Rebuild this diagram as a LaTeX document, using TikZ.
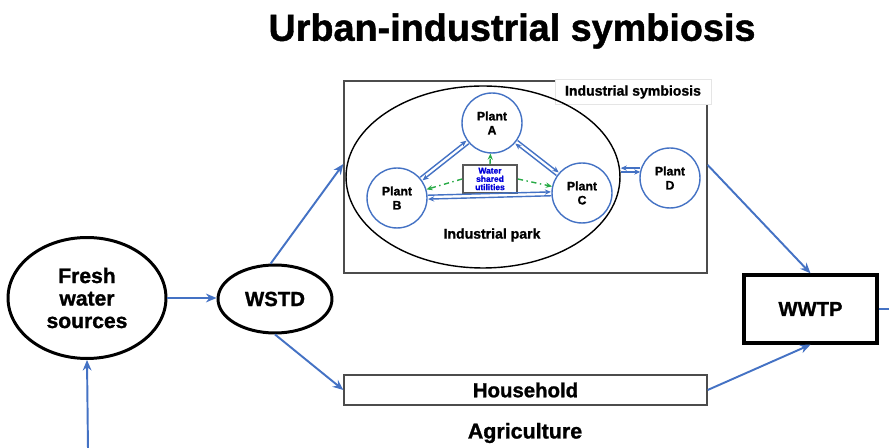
\documentclass[tikz,border=0pt]{standalone}
\usepackage{fontspec}
\setmainfont{Liberation Sans}[BoldFeatures={FakeBold=1.2}]
\usetikzlibrary{shapes.geometric,arrows.meta,calc}

\definecolor{flowblue}{RGB}{68,114,196}
\definecolor{sharegreen}{RGB}{40,170,70}

\tikzset{
  flow/.style={flowblue, line width=1.1pt, -{Stealth[length=6pt,width=5pt]}},
  pipe/.style={flowblue, line width=0.8pt, -{Stealth[length=3.5pt,width=3pt]}},
  share/.style={sharegreen, line width=0.8pt, dash dot, -{Stealth[length=3.5pt,width=3pt]}},
  plant/.style={circle, draw=flowblue, line width=0.8pt, fill=white, minimum size=1.2cm,
    inner sep=0pt, align=center, font=\fontsize{7}{8}\selectfont\bfseries},
  hub/.style={ellipse, draw, line width=1.7pt, inner sep=0pt, align=center,
    font=\fontsize{12}{12.8}\selectfont\bfseries},
  lbl/.style={font=\fontsize{8}{9}\selectfont\bfseries},
}

% two parallel links between plants, one each way
\newcommand{\plantlink}[2]{%
  \draw[pipe, shorten <=0.62cm, shorten >=0.62cm] ($(#1)!1.1pt!90:(#2)$) -- ($(#2)!1.1pt!-90:(#1)$);
  \draw[pipe, shorten <=0.62cm, shorten >=0.62cm] ($(#2)!1.1pt!90:(#1)$) -- ($(#1)!1.1pt!-90:(#2)$);
}

\begin{document}
\begin{tikzpicture}[x=0.02cm, y=-0.02cm]
  \useasboundingbox (0,0) rectangle (889,448);

  % titulo
  \node[font=\fontsize{21.5}{24}\selectfont\bfseries] (title) at (512,31) {Urban-industrial symbiosis};

  % fuente y distribucion
  \node[hub, minimum width=3.16cm, minimum height=2.42cm] (fresh) at (87,298) {Fresh\\water\\sources};
  \node[hub, minimum width=2.28cm, minimum height=1.36cm, font=\fontsize{11.6}{13}\selectfont\bfseries] (wstd) at (275,299) {WSTD};

  % caja de simbiosis industrial
  \node[draw=gray!60!black, line width=0.8pt, minimum width=7.26cm, minimum height=3.84cm] (symbox) at (525.5,177) {};
  \node[draw=gray!20, fill=white, lbl, minimum width=3.12cm, minimum height=0.44cm] (symlabel) at (633,92) {Industrial symbiosis};
  \node[ellipse, draw, line width=0.8pt, minimum width=5.48cm, minimum height=3.64cm] (park) at (483,177) {};
  \node[lbl] (parklabel) at (492,235) {Industrial park};

  % plantas
  \node[plant] (plantA) at (492,123) {Plant\\A};
  \node[plant] (plantB) at (397,198) {Plant\\B};
  \node[plant] (plantC) at (582,193) {Plant\\C};
  \node[plant] (plantD) at (670,178) {Plant\\D};
  \node[draw=gray!70!black, line width=1pt, fill=white, minimum width=1.08cm, minimum height=0.56cm,
    inner sep=1pt, align=center, text=blue!85!black, font=\fontsize{4.8}{4.7}\selectfont\bfseries] (util) at (490,179) {Water\\shared\\utilities};

  \plantlink{plantA}{plantB}
  \plantlink{plantA}{plantC}
  \plantlink{plantB}{plantC}
  \coordinate (dport) at (plantD.165 -| park.east);
  \draw[pipe] ([yshift=1.1pt]plantD.165) -- ([yshift=1.1pt]dport);
  \draw[pipe] ([yshift=-1.1pt]dport) -- ([yshift=-1.1pt]plantD.165);

  \draw[share] (util.north) -- (plantA);
  \draw[share] (util.west) -- (plantB);
  \draw[share] (util.east) -- (plantC);

  % hogares, agricultura y depuradora
  \node[draw=gray!60!black, line width=0.8pt, minimum width=7.26cm, minimum height=0.6cm,
    font=\fontsize{11.6}{13}\selectfont\bfseries] (household) at (525.5,390) {Household};
  \node[font=\fontsize{12.2}{14}\selectfont\bfseries] (agri) at (525,433) {Agriculture};
  \node[draw, line width=1.9pt, minimum width=2.66cm, minimum height=1.36cm,
    font=\fontsize{11.5}{13}\selectfont\bfseries] (wwtp) at (810.5,309) {WWTP};

  % flujos
  \coordinate (inlet) at (88,450);
  \coordinate (outlet) at (892,309);
  \draw[flow] (inlet) -- (fresh.south);
  \draw[flow] (fresh.east) -- (fresh.east -| wstd.west);
  \draw[flow] (wstd.97) -- ([yshift=0.26cm]symbox.west);
  \draw[flow] (wstd.south) -- (household.west);
  \draw[flow] ([yshift=0.24cm]symbox.east) -- (wwtp.north);
  \draw[flow] (household.east) -- (wwtp.south);
  \draw[flowblue, line width=1.1pt] (wwtp.east) -- (outlet);
\end{tikzpicture}
\end{document}
